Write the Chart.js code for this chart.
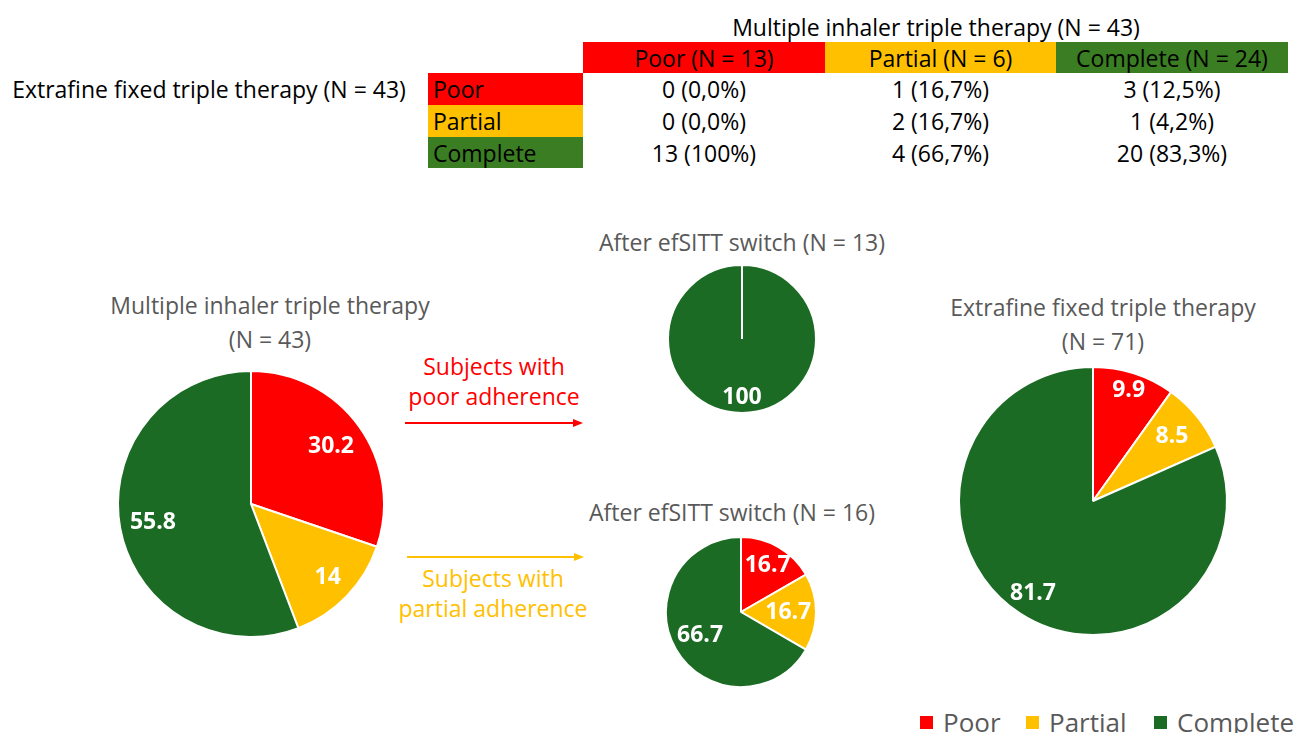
<!DOCTYPE html>
<html>
<head>
<meta charset="utf-8">
<script src="https://cdn.jsdelivr.net/npm/chart.js@4.4.1/dist/chart.umd.min.js"></script>
<style>
  html, body { margin: 0; padding: 0; background: #fff; }
  #stage { position: relative; width: 1299px; height: 733px; overflow: hidden; font-family: "Open Sans", sans-serif; }
  .abs { position: absolute; }
  .cell { position: absolute; display: flex; align-items: center; justify-content: center; font-size: 23px; color: #000; box-sizing: border-box; white-space: nowrap; }
  .rowlab { justify-content: flex-start; padding-left: 5px; }
  .txt { position: absolute; white-space: nowrap; transform: translate(-50%, -50%); }
  .ptitle { color: #595959; font-size: 23px; text-align: center; line-height: 34px; }
  .legend { position: absolute; display: flex; align-items: center; color: #595959; font-size: 26px; white-space: nowrap; }
  .legend .sw { width: 13px; height: 13px; margin-right: 10px; }
</style>
</head>
<body>
<div id="stage"></div>
<script>
// ---------------- DATA ----------------
const adherenceCategories = ['Poor', 'Partial', 'Complete'];
const mittValues = [30.2, 14, 55.8];            // Multiple inhaler triple therapy (N = 43)
const switchFromPoorValues = [0, 0, 100];       // After efSITT switch (N = 13)
const switchFromPartialValues = [16.7, 16.7, 66.7]; // After efSITT switch (N = 16)
const efttValues = [9.9, 8.5, 81.7];            // Extrafine fixed triple therapy (N = 71)

const tableTitle = 'Multiple inhaler triple therapy (N = 43)';
const tableSideTitle = 'Extrafine fixed triple therapy (N = 43)';
const tableColumnHeaders = ['Poor (N = 13)', 'Partial (N = 6)', 'Complete (N = 24)'];
const tableRowLabels = ['Poor', 'Partial', 'Complete'];
const tableRowPoor = ['0 (0,0%)', '1 (16,7%)', '3 (12,5%)'];
const tableRowPartial = ['0 (0,0%)', '2 (16,7%)', '1 (4,2%)'];
const tableRowComplete = ['13 (100%)', '4 (66,7%)', '20 (83,3%)'];

const pieTitles = {
  mitt: ['Multiple inhaler triple therapy', '(N = 43)'],
  poor: ['After efSITT switch (N = 13)'],
  partial: ['After efSITT switch (N = 16)'],
  eftt: ['Extrafine fixed triple therapy', '(N = 71)']
};
const arrowTexts = { poor: ['Subjects with', 'poor adherence'], partial: ['Subjects with', 'partial adherence'] };

// ---------------- STYLE ----------------
const tableColors = ['#FF0000', '#FFC000', '#3A7D22'];
const pieColors = ['#FF0000', '#FFC000', '#1B6B24'];

const stage = document.getElementById('stage');
function el(tag, cls, css, text) {
  const e = document.createElement(tag);
  if (cls) e.className = cls;
  Object.assign(e.style, css || {});
  if (text !== undefined) e.textContent = text;
  stage.appendChild(e);
  return e;
}

// ---------------- TABLE ----------------
el('div', 'txt', { left: '936px', top: '27px', fontSize: '23px', color: '#000' }, tableTitle);
el('div', 'txt', { left: '209px', top: '89px', fontSize: '23px', color: '#000' }, tableSideTitle);
const colX = [583, 825, 1056, 1288];
const rowY = [73, 105, 137, 168];
tableColumnHeaders.forEach((h, i) => {
  el('div', 'cell', { left: colX[i] + 'px', top: '42px', width: (colX[i + 1] - colX[i]) + 'px', height: '31px', background: tableColors[i] }, h);
});
const tableBody = [tableRowPoor, tableRowPartial, tableRowComplete];
tableRowLabels.forEach((lab, r) => {
  el('div', 'cell rowlab', { left: '428px', top: rowY[r] + 'px', width: '155px', height: (rowY[r + 1] - rowY[r]) + 'px', background: tableColors[r] }, lab);
  tableBody[r].forEach((v, c) => {
    el('div', 'cell', { left: colX[c] + 'px', top: rowY[r] + 'px', width: (colX[c + 1] - colX[c]) + 'px', height: (rowY[r + 1] - rowY[r]) + 'px' }, v);
  });
});

// ---------------- PIE LABEL PLUGIN ----------------
const sliceLabels = {
  id: 'sliceLabels',
  afterDatasetsDraw(chart, args, opts) {
    const ctx = chart.ctx;
    const meta = chart.getDatasetMeta(0);
    const data = chart.data.datasets[0].data;
    ctx.save();
    ctx.fillStyle = '#fff';
    ctx.font = 'bold 23px "Open Sans", sans-serif';
    ctx.textAlign = 'center';
    ctx.textBaseline = 'middle';
    meta.data.forEach((arc, i) => {
      if (!data[i]) return;
      const p = arc.getProps(['x', 'y', 'startAngle', 'endAngle', 'outerRadius'], true);
      const mid = (p.startAngle + p.endAngle) / 2;
      const r = p.outerRadius * (opts.ratios ? opts.ratios[i] : 0.75);
      ctx.fillText(String(data[i]), p.x + Math.cos(mid) * r, p.y + Math.sin(mid) * r);
    });
    ctx.restore();
  }
};

function makePie(values, cx, cy, R, ratios) {
  const pad = 4;
  const size = 2 * R + 2 * pad;
  const wrap = el('div', 'abs', { left: (cx - R - pad) + 'px', top: (cy - R - pad) + 'px', width: size + 'px', height: size + 'px' });
  const canvas = document.createElement('canvas');
  canvas.width = size; canvas.height = size;
  canvas.style.width = size + 'px'; canvas.style.height = size + 'px';
  wrap.appendChild(canvas);
  new Chart(canvas, {
    type: 'pie',
    data: {
      labels: adherenceCategories,
      datasets: [{ data: values, backgroundColor: pieColors, borderColor: '#ffffff', borderWidth: 2 }]
    },
    options: {
      responsive: false,
      animation: false,
      radius: R,
      layout: { padding: 0 },
      plugins: { legend: { display: false }, tooltip: { enabled: false }, sliceLabels: { ratios } }
    },
    plugins: [sliceLabels]
  });
}

function title(lines, cx, cy) {
  const t = el('div', 'txt ptitle', { left: cx + 'px', top: cy + 'px' });
  t.innerHTML = lines.map(s => s.replace(/&/g, '&amp;')).join('<br>');
}

// MITT
title(pieTitles.mitt, 270, 322);
makePie(mittValues, 251, 504, 133, [0.74, 0.8, 0.75]);
// after switch (poor)
title(pieTitles.poor, 742, 242);
makePie(switchFromPoorValues, 742, 339, 74, [0.79, 0.79, 0.79]);
// after switch (partial)
title(pieTitles.partial, 732, 512);
makePie(switchFromPartialValues, 741, 612, 75, [0.71, 0.63, 0.63]);
// EFTT
title(pieTitles.eftt, 1103, 324);
makePie(efttValues, 1093, 501, 134, [0.87, 0.76, 0.82]);

// ---------------- ARROWS ----------------
function arrow(x1, x2, y, color) {
  const svgNS = 'http://www.w3.org/2000/svg';
  const svg = document.createElementNS(svgNS, 'svg');
  svg.setAttribute('width', x2 - x1 + 2);
  svg.setAttribute('height', 12);
  Object.assign(svg.style, { position: 'absolute', left: x1 + 'px', top: (y - 6) + 'px' });
  const line = document.createElementNS(svgNS, 'line');
  line.setAttribute('x1', 0); line.setAttribute('y1', 6);
  line.setAttribute('x2', x2 - x1 - 8); line.setAttribute('y2', 6);
  line.setAttribute('stroke', color); line.setAttribute('stroke-width', 2);
  const head = document.createElementNS(svgNS, 'polygon');
  const w = x2 - x1;
  head.setAttribute('points', `${w - 10},2 ${w},6 ${w - 10},10`);
  head.setAttribute('fill', color);
  svg.appendChild(line); svg.appendChild(head);
  stage.appendChild(svg);
}
el('div', 'txt', { left: '494px', top: '366px', fontSize: '23px', color: '#FF0000' }, arrowTexts.poor[0]);
el('div', 'txt', { left: '494px', top: '396px', fontSize: '23px', color: '#FF0000' }, arrowTexts.poor[1]);
arrow(405, 583, 423, '#FF0000');
arrow(407, 584, 557, '#FFC000');
el('div', 'txt', { left: '493px', top: '578px', fontSize: '23px', color: '#FFC000' }, arrowTexts.partial[0]);
el('div', 'txt', { left: '493px', top: '608px', fontSize: '23px', color: '#FFC000' }, arrowTexts.partial[1]);

// ---------------- LEGEND ----------------
const legendX = [920, 1026, 1154];
adherenceCategories.forEach((c, i) => {
  const item = el('div', 'legend', { left: legendX[i] + 'px', top: '707px', height: '30px' });
  const sw = document.createElement('span');
  sw.className = 'sw'; sw.style.background = pieColors[i];
  const tx = document.createElement('span'); tx.textContent = c;
  item.appendChild(sw); item.appendChild(tx);
});
</script>
</body>
</html>
